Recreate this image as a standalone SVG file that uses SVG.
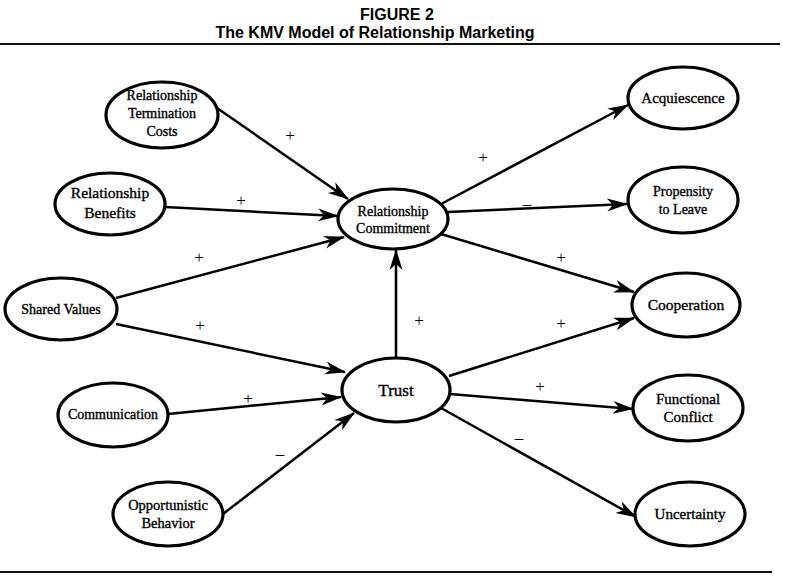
<svg xmlns="http://www.w3.org/2000/svg" width="794" height="578" viewBox="0 0 794 578">
<defs>
<style>
.node ellipse{fill:#fff;stroke:#000;stroke-width:3.2}
.node text{font-family:"Liberation Serif","Times New Roman",serif;font-size:14px;fill:#000;stroke:#000;stroke-width:0.35;text-anchor:middle}
.edge{stroke:#000;stroke-width:2.5;fill:none;marker-end:url(#arr)}
.lbl{font-family:"Liberation Serif","Times New Roman",serif;font-size:17px;fill:#000;text-anchor:middle}
.title{font-family:"Liberation Sans",Arial,sans-serif;font-weight:bold;font-size:16px;fill:#000;text-anchor:middle}
.rule{stroke:#111;stroke-width:2}
</style>
<marker id="arr" markerUnits="userSpaceOnUse" markerWidth="22" markerHeight="16" viewBox="0 0 22 16" refX="20" refY="8" orient="auto">
<path d="M0,1.5 L21,8 L0,14.5 L6,8 z" fill="#000"/>
</marker>
</defs>
<rect width="794" height="578" fill="#fff"/>
<text class="title" x="397" y="20">FIGURE 2</text>
<text class="title" x="375" y="38">The KMV Model of Relationship Marketing</text>
<line class="rule" x1="0" y1="44" x2="780" y2="44"/>
<line class="rule" x1="0" y1="572" x2="772" y2="572"/>

<g id="connectors">
<line class="edge" x1="217" y1="108" x2="348" y2="199"/>
<line class="edge" x1="165" y1="207" x2="338" y2="216"/>
<line class="edge" x1="116" y1="298" x2="344" y2="237"/>
<line class="edge" x1="116" y1="324" x2="345" y2="372"/>
<line class="edge" x1="168" y1="414" x2="341" y2="397"/>
<line class="edge" x1="223" y1="514" x2="354" y2="413"/>
<line class="edge" x1="396" y1="358" x2="396" y2="250"/>
<line class="edge" x1="441" y1="204" x2="628" y2="105"/>
<line class="edge" x1="448" y1="212" x2="627" y2="204"/>
<line class="edge" x1="441" y1="234" x2="634" y2="292"/>
<line class="edge" x1="449" y1="376" x2="634" y2="318"/>
<line class="edge" x1="450" y1="394" x2="633" y2="409"/>
<line class="edge" x1="441" y1="408" x2="636" y2="517"/>
<text class="lbl" x="290" y="141">+</text>
<text class="lbl" x="241" y="206">+</text>
<text class="lbl" x="199" y="263">+</text>
<text class="lbl" x="200" y="331">+</text>
<text class="lbl" x="248" y="404">+</text>
<text class="lbl" x="280" y="459">–</text>
<text class="lbl" x="419" y="326">+</text>
<text class="lbl" x="483" y="163">+</text>
<text class="lbl" x="527" y="209">–</text>
<text class="lbl" x="561" y="263">+</text>
<text class="lbl" x="561" y="329">+</text>
<text class="lbl" x="540" y="392">+</text>
<text class="lbl" x="519" y="443">–</text>
</g>

<g id="rtc" class="node"><ellipse cx="162" cy="115" rx="56" ry="33"/><text x="162" y="100">Relationship</text><text x="162" y="118">Termination</text><text x="162" y="136">Costs</text></g>
<g id="rb" class="node" style="font-size:15.5px"><ellipse cx="110" cy="204" rx="55" ry="31"/><text x="110" y="198" style="font-size:15.5px">Relationship</text><text x="110" y="218" style="font-size:15.5px">Benefits</text></g>
<g id="sv" class="node"><ellipse cx="61" cy="309" rx="56" ry="31"/><text x="61" y="314">Shared  Values</text></g>
<g id="comm" class="node"><ellipse cx="113" cy="415" rx="55" ry="32"/><text x="113" y="419">Communication</text></g>
<g id="ob" class="node"><ellipse cx="168" cy="514" rx="55" ry="32"/><text x="168" y="510" style="font-size:14.5px">Opportunistic</text><text x="168" y="528" style="font-size:14.5px">Behavior</text></g>
<g id="rc" class="node"><ellipse cx="393" cy="219" rx="55" ry="30"/><text x="393" y="216">Relationship</text><text x="393" y="233">Commitment</text></g>
<g id="trust" class="node"><ellipse cx="396" cy="390" rx="54" ry="32"/><text x="396" y="396" style="font-size:17px">Trust</text></g>
<g id="acq" class="node"><ellipse cx="683" cy="98" rx="55" ry="31"/><text x="683" y="103" style="font-size:15px">Acquiescence</text></g>
<g id="prop" class="node"><ellipse cx="683" cy="200" rx="55" ry="33"/><text x="683" y="196">Propensity</text><text x="683" y="214">to Leave</text></g>
<g id="coop" class="node"><ellipse cx="686" cy="305" rx="54" ry="32"/><text x="686" y="310" style="font-size:15.5px">Cooperation</text></g>
<g id="fc" class="node"><ellipse cx="688" cy="408" rx="55" ry="33"/><text x="688" y="404" style="font-size:15px">Functional</text><text x="688" y="422" style="font-size:15px">Conflict</text></g>
<g id="unc" class="node"><ellipse cx="690" cy="514" rx="55" ry="32"/><text x="690" y="519" style="font-size:15px">Uncertainty</text></g>
</svg>
